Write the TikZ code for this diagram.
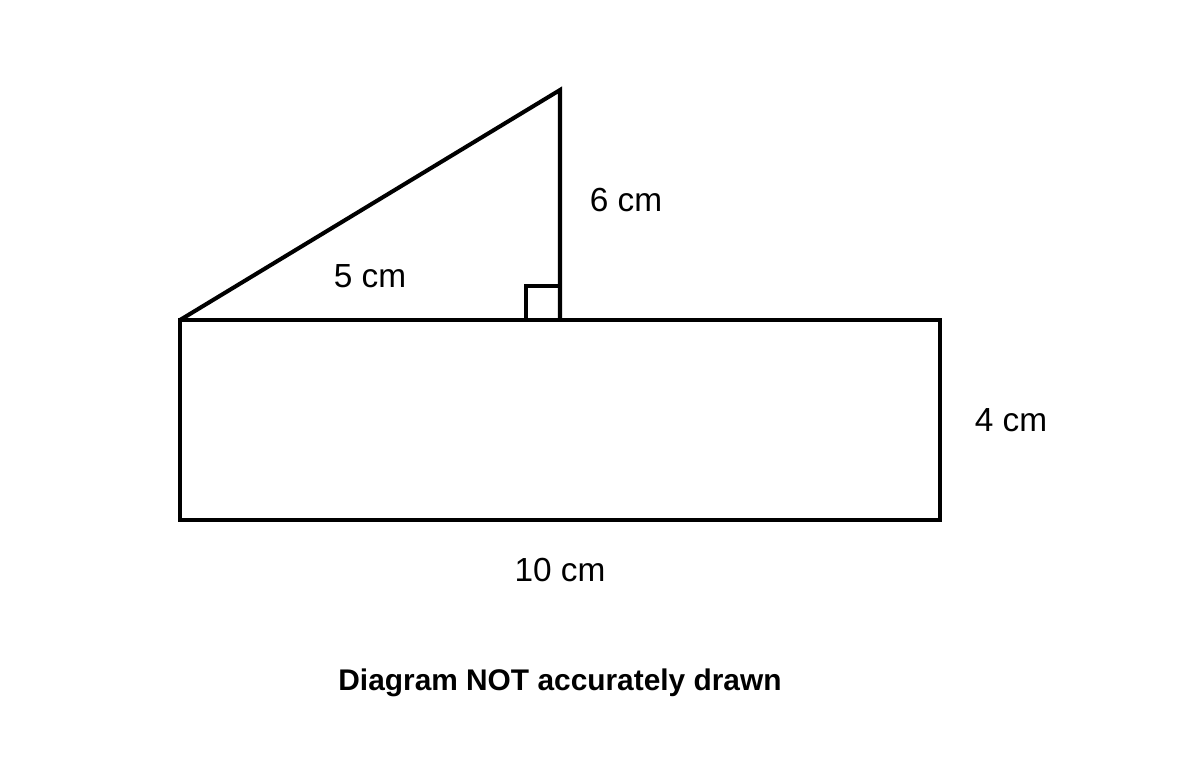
\documentclass[tikz,border=0pt]{standalone}
\usepackage{fontspec}
\setmainfont{Liberation Sans}
\usepackage{tikz}
\usetikzlibrary{positioning}

\begin{document}
\begin{tikzpicture}[
x = 0.02cm, y = -0.02cm,
every node/.style = {font = \fontsize{19}{22}\selectfont},
  edge/.style = {line width = 2.3pt, line join = miter}
]
\useasboundingbox (0,0) rectangle (1200,760);
\coordinate (tl) at (180,320);
\coordinate (tr) at (940,320);
\coordinate (br) at (940,520);
\coordinate (bl) at (180,520);
\coordinate (top) at (560,90);
\coordinate (foot) at (560,320);
\draw[edge] (tl) -- (tr) -- (br) -- (bl) -- cycle;
\draw[edge] (tl) -- (top) -- (foot);
% right angle mark
\draw[line width = 1.8pt] (526,320) -- (526,286) -- (560,286);
\node (h) at (626,200) {6 cm};
\node (s) at (370,276) {5 cm};
\node (w) at (1011,420) {4 cm};
\node (l) at (560,570) {10 cm};
\node[font = \fontsize{17}{20}\selectfont\bfseries] (note) at (560,683) {Diagram NOT accurately drawn};
\end{tikzpicture}
\end{document}
